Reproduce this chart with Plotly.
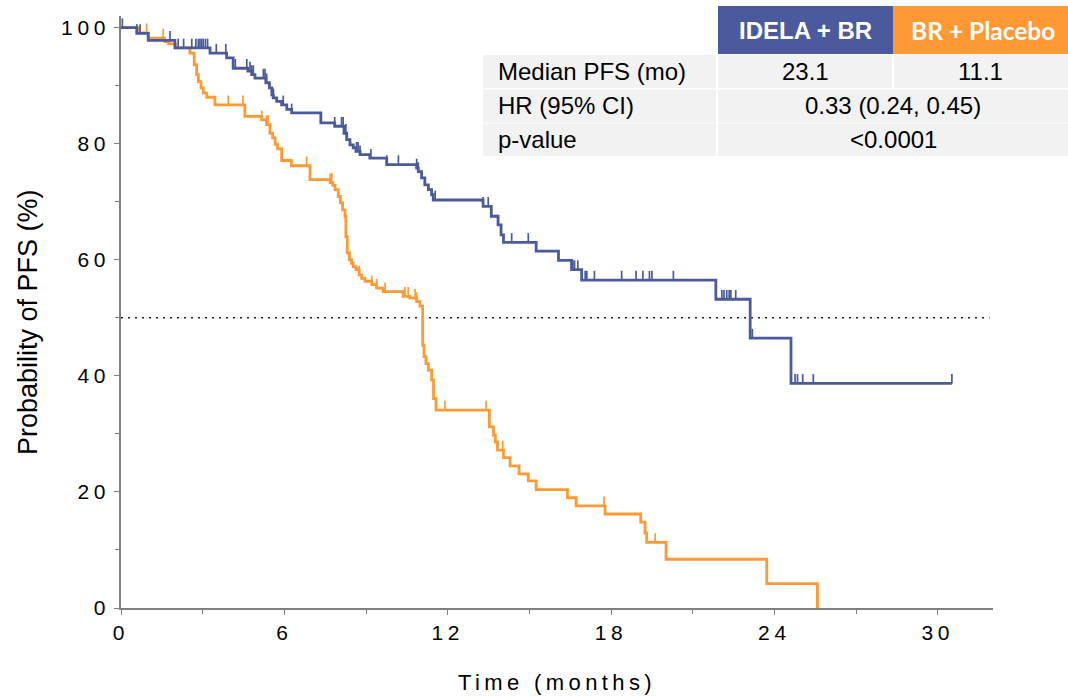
import plotly.graph_objects as go

# ---- Kaplan-Meier data: progression-free survival (%) ----
# IDELA + BR arm: event times (months) and survival after each step
idela_times = [0.58, 1.0, 1.98, 3.27, 3.88, 4.12, 4.66, 4.8, 4.92, 5.32, 5.45, 5.54,
               5.59, 5.72, 5.9, 6.09, 6.27, 7.34, 7.85, 8.19, 8.29, 8.41, 8.53, 8.63,
               8.78, 9.14, 9.76, 10.86, 10.92, 11.04, 11.16, 11.29, 11.41, 11.47, 13.3,
               13.6, 13.85, 13.96, 14.05, 15.25, 16.07, 16.55, 16.92, 21.85, 23.11, 24.61]
idela_surv = [99.0, 97.8, 96.5, 95.6, 94.8, 93.0, 92.5, 91.9, 91.3, 90.5, 89.6, 88.4,
              87.9, 87.3, 86.7, 85.9, 85.3, 83.6, 83.0, 81.8, 80.7, 79.8, 79.3, 78.7,
              78.1, 77.5, 76.4, 75.8, 75.2, 74.1, 72.9, 72.1, 71.2, 70.3, 69.2,
              67.5, 66.0, 64.3, 63.0, 61.5, 59.9, 58.3, 56.5, 53.2, 46.5, 38.7]
idela_end = 30.52
idela_censored = [0.05, 0.58, 0.7, 1.8, 2.1, 2.3, 2.6, 2.75, 2.84, 2.9, 2.96, 3.02, 3.1,
                  3.18, 3.5, 3.85, 4.2, 4.62, 4.74, 4.8, 4.86, 5.23, 5.29, 5.35, 5.6,
                  5.96, 6.27, 7.34, 7.85, 8.1, 8.16, 8.26, 8.65, 8.71, 8.78, 9.18, 9.76,
                  10.19, 10.86, 10.92, 11.54, 13.3, 13.49, 13.6, 14.35, 14.96, 16.6,
                  16.66, 16.78, 17.05, 17.11, 17.39, 18.39, 18.92, 19.17, 19.41, 19.5,
                  20.29, 22.07, 22.15, 22.25, 22.34, 22.4, 22.58, 23.19, 24.76, 24.85,
                  25.04, 25.43, 30.52]

# BR + Placebo arm
placebo_times = [0.64, 1.0, 1.6, 1.75, 2.0, 2.53, 2.69, 2.78, 2.84, 2.94, 3.02, 3.15,
                 3.45, 4.55, 5.17, 5.35, 5.47, 5.57, 5.66, 5.75, 5.9, 6.26, 6.94, 7.68,
                 7.78, 7.86, 7.98, 8.06, 8.14, 8.23, 8.26, 8.31, 8.39, 8.47, 8.53, 8.63,
                 8.75, 8.84, 8.96, 9.21, 9.39, 9.63, 10.37, 10.61, 10.86, 10.98, 11.08,
                 11.13, 11.2, 11.29, 11.41, 11.48, 11.57, 13.53, 13.68, 13.75, 13.83,
                 14.05, 14.29, 14.62, 14.96, 15.25, 16.4, 16.72, 17.78, 19.09, 19.25,
                 19.31, 20.02, 23.72, 25.58]
placebo_surv = [99.1, 98.2, 97.6, 97.2, 96.5, 95.6, 93.6, 91.9, 90.7, 89.6, 88.7, 88.0,
                86.7, 84.7, 84.1, 83.3, 81.8, 81.0, 79.9, 79.1, 77.1, 76.2, 73.8, 73.3,
                72.8, 72.1, 70.9, 69.8, 68.6, 67.5, 64.0, 61.2, 60.0, 59.4, 58.8, 58.3,
                57.4, 56.8, 56.3, 55.7, 55.1, 54.5, 53.7, 53.4, 52.8, 52.0, 45.3,
                43.3, 42.1, 41.0, 39.3, 36.1, 34.1, 31.2, 29.8, 28.6, 27.2,
                25.9, 24.5, 23.1, 21.9, 20.4, 19.0, 17.6, 16.2, 14.8, 12.9,
                11.3, 8.4, 4.2, 0.0]
placebo_end = 25.58
placebo_censored = [0.94, 1.55, 3.94, 4.48, 5.17, 5.35, 5.4, 5.47, 6.82, 7.68, 7.74,
                    8.75, 9.21, 9.39, 9.7, 10.43, 10.55, 10.8, 10.86, 11.9, 13.41,
                    14.02, 17.74, 19.62]

# Summary table
table_header = ["IDELA + BR", "BR + Placebo"]
row_labels = ["Median PFS (mo)", "HR (95% CI)", "p-value"]
median_pfs = ["23.1", "11.1"]
hazard_ratio = "0.33 (0.24, 0.45)"
p_value = "<0.0001"

# Axis ticks and titles
x_ticks = [0, 6, 12, 18, 24, 30]
y_ticks = [0, 20, 40, 60, 80, 100]
x_title = "Time (months)"
y_title = "Probability of PFS (%)"
median_level = 50

BLUE = "#4A5A9C"
ORANGE = "#FF9933"
AXIS = "#808080"
TICK_H = 1.6  # height of censor ticks, in % units


def step_xy(times, surv, end):
    xs = [0] + list(times)
    ys = [100] + list(surv)
    if end > xs[-1]:
        xs.append(end)
        ys.append(ys[-1])
    return xs, ys


def surv_at(times, surv, t):
    s = 100.0
    for ti, si in zip(times, surv):
        if ti <= t:
            s = si
        else:
            break
    return s


def censor_xy(times, surv, cens):
    xs, ys = [], []
    for c in cens:
        s = surv_at(times, surv, c)
        xs += [c, c, None]
        ys += [s, s + TICK_H, None]
    return xs, ys


fig = go.Figure()

for name, times, surv, end, cens, col in [
    (table_header[1], placebo_times, placebo_surv, placebo_end, placebo_censored, ORANGE),
    (table_header[0], idela_times, idela_surv, idela_end, idela_censored, BLUE),
]:
    sx, sy = step_xy(times, surv, end)
    fig.add_trace(go.Scatter(x=sx, y=sy, mode="lines", line=dict(color=col, width=2.8, shape="hv"),
                             name=name, showlegend=False, hoverinfo="skip"))
    cx, cy = censor_xy(times, surv, cens)
    fig.add_trace(go.Scatter(x=cx, y=cy, mode="lines", line=dict(color=col, width=1.7),
                             showlegend=False, hoverinfo="skip", connectgaps=False))

# Median reference line
fig.add_shape(type="line", xref="x", yref="y", x0=0, x1=31.9, y0=median_level, y1=median_level,
              line=dict(color="#222222", width=1.5, dash="2px,5px"), layer="below")

# ---- Layout geometry (pixels) ----
W, H = 1068, 697
L, R, T, B = 121, 75, 16, 89
PW, PH = W - L - R, H - T - B


def px(xp):
    return (xp - L) / PW


def py(yp):
    return (H - B - yp) / PH


def rect(x0, x1, y0, y1, color):
    fig.add_shape(type="rect", xref="paper", yref="paper",
                  x0=px(x0), x1=px(x1), y0=py(y1), y1=py(y0),
                  line=dict(width=0), fillcolor=color, layer="above")


def label(x, y, text, size=24, color="#000000", family="Liberation Sans, Arial", anchor="center",
          angle=0):
    fig.add_annotation(xref="paper", yref="paper", x=px(x), y=py(y), text=text, showarrow=False,
                       xanchor=anchor, yanchor="middle", textangle=angle,
                       font=dict(size=size, color=color, family=family))


# Table
CELL = "#F2F2F2"
col_l, col_m, col_r, col_end = 483, 718, 893, 1068
rows = [(55, 88), (89.5, 122.5), (123.5, 156)]
rect(col_m, col_r, 6, 54, BLUE)
rect(col_r, col_end, 6, 54, ORANGE)
label((col_m + col_r) / 2, 30, "<b>" + table_header[0] + "</b>", size=24, color="white",
      family="Liberation Sans, Arial")
label((col_r + col_end) / 2 + 2, 30, "<b>" + table_header[1] + "</b>", size=24.5, color="white",
      family="Lato, Open Sans")
for i, (y0, y1) in enumerate(rows):
    rect(col_l, col_m - 2, y0, y1, CELL)
    if i == 0:
        rect(col_m, col_r - 1, y0, y1, CELL)
        rect(col_r + 1, col_end, y0, y1, CELL)
    else:
        rect(col_m, col_end, y0, y1, CELL)
    label(col_l + 13, (y0 + y1) / 2, row_labels[i], anchor="left")

label((col_m + col_r) / 2, (rows[0][0] + rows[0][1]) / 2, median_pfs[0])
label((col_r + col_end) / 2, (rows[0][0] + rows[0][1]) / 2, median_pfs[1])
label((col_m + col_end) / 2, (rows[1][0] + rows[1][1]) / 2, hazard_ratio)
label((col_m + col_end) / 2, (rows[2][0] + rows[2][1]) / 2, p_value.replace("<", "&lt;"))

# Y-axis title placed as a rotated label
label(28, 322, y_title, size=27, angle=-90)

axis_font = dict(family="Liberation Sans, Arial", size=21, color="#000000")
fig.update_layout(
    width=W, height=H, autosize=False,
    margin=dict(l=L, r=R, t=T, b=B, autoexpand=False),
    paper_bgcolor="white", plot_bgcolor="white",
    xaxis=dict(range=[0, 32.03], tickvals=x_ticks, ticktext=[str(v) for v in x_ticks],
               automargin=False,
               showgrid=False, zeroline=False, showline=True, linecolor=AXIS, linewidth=1.6,
               ticks="outside", ticklen=5, tickwidth=1.2, tickcolor=AXIS, tickfont=axis_font,
               minor=dict(tickvals=[3, 9, 15, 21, 27], ticks="outside", ticklen=4,
                          tickcolor=AXIS, tickwidth=1.2),
               title=dict(text=x_title, font=dict(family="Liberation Sans, Arial", size=22,
                                                  color="#000000"), standoff=32)),
    yaxis=dict(range=[0, 102], tickvals=y_ticks, ticktext=[str(v) for v in y_ticks],
               automargin=False,
               showgrid=False, zeroline=False, showline=True, linecolor=AXIS, linewidth=1.6,
               ticks="outside", ticklen=5, tickwidth=1.2, tickcolor=AXIS, tickfont=axis_font,
               minor=dict(tickvals=[10, 30, 50, 70, 90], ticks="outside", ticklen=4,
                          tickcolor=AXIS, tickwidth=1.2)),
)

spacing_css = (
    "var s=document.createElement('style');"
    "s.innerHTML='.xtick text,.ytick text{letter-spacing:0.22em}.xtitle{letter-spacing:0.2em}';"
    "document.head.appendChild(s);"
)
fig.write_html("out.html", post_script=spacing_css)
